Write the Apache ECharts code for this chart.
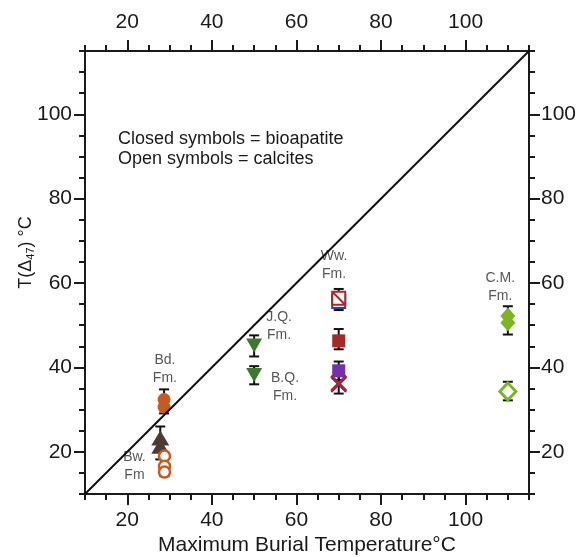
<!DOCTYPE html>
<html lang="en">
<head>
    <meta charset="UTF-8">
    <title>Clumped isotope temperatures</title>
    <script src="https://cdn.jsdelivr.net/npm/echarts@6/dist/echarts.min.js"></script>
</head>
<body style="margin:0">
<div id="main" style="width:579px;height:557px"></div>
<script type="text/javascript">
    // axis ticks
    var majorTicks = [20, 40, 60, 80, 100]
    var oneToOne = [[10, 10], [115, 115]]

    // closed symbols (bioapatite) and open symbols (calcites)
    var bdClosed = [[28.7, 32.4], [28.7, 30.6]]
    var bwTriangles = [[27.8, 23.3], [27.8, 21.3]]
    var bwOpen = [[28.8, 19.0], [28.8, 16.6], [28.8, 15.2]]
    var jqTriangle = [[50, 45.2]]
    var bqTriangle = [[50, 38.2]]
    var wwOpenBlue = [[70, 55.6]]
    var wwOpenRed = [[70, 56.4]]
    var wwRedSquare = [[70, 46.3]]
    var wwPurpleSquare = [[70, 39.2]]
    var wwBlueX = [[70, 36.0]]
    var wwRedX = [[70, 36.3]]
    var cmClosed = [[110, 52.2], [110, 50.6]]
    var cmOpen = [[110, 34.3]]

    // error bars: x, low, high
    var errorBars = [
        [28.7, 29.1, 34.8],
        [27.8, 18.2, 26.0],
        [28.8, 14.2, 19.5],
        [50, 42.6, 47.6],
        [50, 36.0, 40.3],
        [70, 53.6, 58.6],
        [70, 44.3, 49.1],
        [70, 37.0, 41.4],
        [70, 33.8, 38.5],
        [110, 47.8, 54.5],
        [110, 32.2, 36.6]
    ]

    // formation labels: x, y, text
    var formationLabels = [
        [28.9, 39.6, 'Bd.\nFm.'],
        [21.7, 16.7, 'Bw.\nFm'],
        [55.9, 49.7, 'J.Q.\nFm.'],
        [57.3, 35.4, 'B.Q.\nFm.'],
        [68.9, 64.2, 'Ww.\nFm.'],
        [108.2, 59.0, 'C.M.\nFm.']
    ]

    var FONT = "'Liberation Sans', Arial, sans-serif"
    var INK = '#1a1a1a'

    function axisPair(position, extra) {
        var major = {
            type: 'value', position: position, min: 10, max: 115,
            axisLine: {show: true, onZero: false, lineStyle: {color: INK, width: 2}},
            axisTick: {show: true, customValues: majorTicks, length: 11, lineStyle: {color: INK, width: 2}},
            axisLabel: {show: true, customValues: majorTicks, fontSize: 21, fontFamily: FONT, color: INK},
            splitLine: {show: false}
        }
        Object.assign(major, extra || {})
        var minor = {
            type: 'value', position: position, min: 10, max: 115, interval: 5,
            axisLine: {show: false, onZero: false},
            axisTick: {show: true, length: 6, lineStyle: {color: INK, width: 2}},
            axisLabel: {show: false},
            splitLine: {show: false}
        }
        return [major, minor]
    }

    var xAxes = axisPair('bottom', {
        name: 'Maximum Burial Temperature°C',
        nameLocation: 'middle',
        nameGap: 41,
        nameMoveOverlap: false,
        nameTextStyle: {fontSize: 21, fontFamily: FONT, color: INK}
    }).concat(axisPair('top'))
    xAxes[0].axisLabel.margin = 16
    xAxes[2].axisLabel.margin = 18

    var yAxes = axisPair('left', {
        name: 'T(Δ{s|47}) °C',
        nameLocation: 'middle',
        nameGap: 49,
        nameMoveOverlap: false,
        nameTextStyle: {
            fontSize: 18, fontFamily: FONT, color: INK,
            padding: [0, 0, 0, 40],
            rich: {s: {fontSize: 11, fontFamily: FONT, color: INK, verticalAlign: 'bottom', padding: [9, 0, 0, 0]}}
        }
    }).concat(axisPair('right'))
    yAxes[0].axisLabel.margin = 13
    yAxes[2].axisLabel.margin = 12

    var ORANGE = '#c65a1f'
    var BROWN = '#4d3c36'
    var DKGREEN = '#3a7b2b'
    var LTGREEN = '#7bb521'
    var RED = '#a8282a'
    var BLUE = '#3b3ca0'
    var PURPLE = '#7430b0'

    function pts(data, symbol, size, style, extra) {
        var s = {
            type: 'scatter', data: data, symbol: symbol, symbolSize: size,
            itemStyle: Object.assign({opacity: 1}, style), z: 3,
            emphasis: {disabled: true}
        }
        return Object.assign(s, extra || {})
    }

    var openSquare = 'path://M0,0L10,0L10,10L0,10Z'
    var slashSquare = 'path://M0,0L10,0L10,10L0,10ZM0,0L10,10'
    var cross = 'path://M0,0L10,10M10,0L0,10'

    var option = {
        animation: false,
        grid: {left: 85, right: 50, top: 51, bottom: 63, outerBoundsMode: 'none', containLabel: false},
        xAxis: xAxes,
        yAxis: yAxes,
        graphic: [{
            type: 'text', left: 118, top: 129,
            style: {
                text: 'Closed symbols = bioapatite\nOpen symbols = calcites',
                font: '18px ' + FONT, fill: INK, lineHeight: 20
            }
        }],
        series: [
            {
                type: 'custom', data: errorBars, z: 2,
                encode: {x: 0, y: [1, 2]},
                renderItem: function (params, api) {
                    var x = api.value(0)
                    var lo = api.coord([x, api.value(1)])
                    var hi = api.coord([x, api.value(2)])
                    var w = 5
                    var st = {stroke: '#111', lineWidth: 2}
                    return {
                        type: 'group', children: [
                            {type: 'line', shape: {x1: lo[0], y1: lo[1], x2: hi[0], y2: hi[1]}, style: st},
                            {type: 'line', shape: {x1: lo[0] - w, y1: lo[1], x2: lo[0] + w, y2: lo[1]}, style: st},
                            {type: 'line', shape: {x1: hi[0] - w, y1: hi[1], x2: hi[0] + w, y2: hi[1]}, style: st}
                        ]
                    }
                }
            },
            pts(bdClosed, 'circle', 13, {color: ORANGE}),
            pts(bwTriangles, 'triangle', [18, 15], {color: BROWN}),
            pts(bwOpen, 'circle', 11, {color: '#fff', borderColor: ORANGE, borderWidth: 2.5}),
            pts(jqTriangle, 'triangle', [16, 14], {color: DKGREEN}, {symbolRotate: 180}),
            pts(bqTriangle, 'triangle', [16, 14], {color: DKGREEN}, {symbolRotate: 180}),
            pts(wwOpenBlue, openSquare, 13, {color: '#fff', borderColor: BLUE, borderWidth: 2}),
            pts(wwOpenRed, slashSquare, 13, {color: '#fff', borderColor: RED, borderWidth: 2}),
            pts(wwRedSquare, 'rect', 13, {color: RED}),
            pts(wwPurpleSquare, 'rect', 13, {color: PURPLE}),
            pts(wwBlueX, cross, 15, {color: 'none', borderColor: BLUE, borderWidth: 2.5}),
            pts(wwRedX, cross, 15, {color: 'none', borderColor: RED, borderWidth: 2.5}),
            pts(cmClosed, 'diamond', [15, 17], {color: LTGREEN}),
            pts(cmOpen, 'diamond', [16, 17], {color: '#fff', borderColor: LTGREEN, borderWidth: 3}),
            {
                type: 'line', data: oneToOne, symbol: 'none', z: 5,
                lineStyle: {color: '#111', width: 2}, silent: true
            },
            {
                type: 'scatter', data: formationLabels, symbolSize: 0, z: 4, silent: true,
                label: {
                    show: true, position: 'inside', formatter: function (p) { return p.value[2] },
                    fontSize: 14, fontFamily: FONT, color: '#2a2a2a', lineHeight: 18
                }
            }
        ]
    }

    var myChart = echarts.init(document.getElementById('main'))
    myChart.setOption(option)
</script>
</body>
</html>
